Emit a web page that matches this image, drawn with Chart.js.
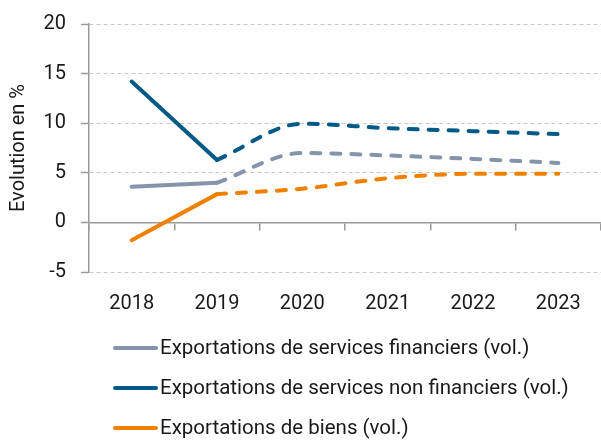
<!DOCTYPE html>
<html><head><meta charset="utf-8">
<script src="https://cdn.jsdelivr.net/npm/chart.js@4/dist/chart.umd.min.js"></script>
<style>html,body{margin:0;padding:0;background:#fff}canvas{display:block}</style>
</head><body>
<canvas id="c" width="601" height="441"></canvas>
<script>
const years = ['2018', '2019', '2020', '2021', '2022', '2023'];
const servicesFinanciers = [3.6, 4.0, 7.0, 6.75, 6.4, 6.0];
const servicesNonFinanciers = [14.2, 6.3, 9.95, 9.5, 9.2, 8.9];
const biens = [-1.8, 2.85, 3.4, 4.45, 4.9, 4.9];
const seriesLabels = [
  'Exportations de services financiers (vol.)',
  'Exportations de services non financiers (vol.)',
  'Exportations de biens (vol.)'
];
const seriesColors = ['#8594aa', '#035a86', '#f08100'];
const lastActualIndex = 1; // 2019: solid until here, dashed afterwards
const yMin = -5, yMax = 20, yStep = 5;

const allSeries = [servicesFinanciers, servicesNonFinanciers, biens];
const FONT = 'Roboto';
const TEXT = '#1a1a1a';
const AXIS = '#9a9a9a';

const datasets = [];
allSeries.forEach((vals, s) => {
  datasets.push({
    label: seriesLabels[s],
    data: vals.map((v, i) => i <= lastActualIndex ? v : null),
    borderColor: seriesColors[s],
    borderWidth: 4,
    borderCapStyle: 'round',
    borderJoinStyle: 'round',
    pointRadius: 0,
    tension: 0,
    spanGaps: false
  });
  datasets.push({
    label: seriesLabels[s] + ' prévision',
    data: vals.map((v, i) => i >= lastActualIndex ? v : null),
    borderColor: seriesColors[s],
    borderWidth: 4,
    borderCapStyle: 'round',
    borderJoinStyle: 'round',
    borderDash: [9, 11],
    pointRadius: 0,
    cubicInterpolationMode: 'monotone',
    spanGaps: false
  });
});

const legendPlugin = {
  id: 'leftLegend',
  afterDraw(chart) {
    const ctx = chart.ctx;
    ctx.save();
    ctx.font = '20.5px ' + FONT;
    ctx.textBaseline = 'middle';
    ctx.textAlign = 'left';
    seriesLabels.forEach((label, i) => {
      const y = 348 + i * 40;
      ctx.strokeStyle = seriesColors[i];
      ctx.lineWidth = 4;
      ctx.lineCap = 'round';
      ctx.beginPath();
      ctx.moveTo(115, y);
      ctx.lineTo(156, y);
      ctx.stroke();
      ctx.fillStyle = TEXT;
      ctx.fillText(label, 160, y + 1);
    });
    ctx.restore();
  }
};

new Chart(document.getElementById('c'), {
  type: 'line',
  data: { labels: years, datasets },
  options: {
    responsive: false,
    animation: false,
    devicePixelRatio: 1,
    layout: { padding: { top: 24, right: 0, bottom: 169, left: 0 } },
    plugins: { legend: { display: false }, tooltip: { enabled: false } },
    scales: {
      x: {
        type: 'category',
        position: { y: 0 },
        offset: true,
        afterFit(scale) { scale.paddingLeft = 0; scale.paddingRight = 0; },
        grid: { display: true, drawOnChartArea: false, offset: true, tickLength: 7, color: AXIS, lineWidth: 1.5 },
        border: { display: true, color: AXIS, width: 1.5 },
        ticks: { padding: 63, color: TEXT, font: { family: FONT, size: 20 }, maxRotation: 0, autoSkip: false }
      },
      y: {
        min: yMin, max: yMax,
        afterFit(scale) { scale.width = 89; scale.paddingTop = 0; scale.paddingBottom = 0; },
        ticks: { stepSize: yStep, padding: 15, color: TEXT, font: { family: FONT, size: 20 } },
        grid: { color: '#c8c8c8', lineWidth: 1, tickLength: 8, tickColor: AXIS, tickWidth: 1.5 },
        border: { display: true, color: AXIS, width: 1.5, dash: [4, 3] },
        title: { display: true, text: 'Evolution en %', color: TEXT, font: { family: FONT, size: 20 }, padding: { top: 7, bottom: 0 } }
      }
    }
  },
  plugins: [legendPlugin]
});
</script>
</body></html>
